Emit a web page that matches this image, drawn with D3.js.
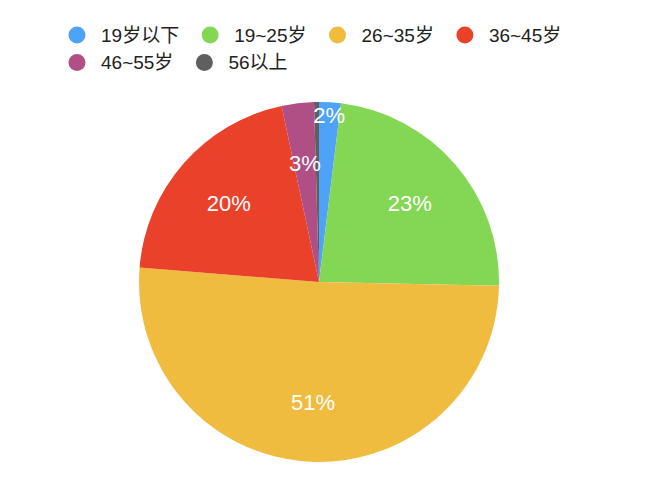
<!DOCTYPE html>
<html>
<head>
<meta charset="utf-8">
<script src="https://cdn.jsdelivr.net/npm/d3@7"></script>
<style>
  body { margin: 0; background: #fff; }
  text { font-family: "Helvetica Neue", Helvetica, Arial, "Liberation Sans", "Noto Sans CJK SC", sans-serif; }
</style>
</head>
<body>
<script>
// age groups and their share (percent)
const ageGroups = ["19岁以下", "19~25岁", "26~35岁", "36~45岁", "46~55岁", "56以上"];
const shares = [1.95, 23.4, 51.0, 20.4, 2.9, 0.44];
const colors = ["#4da3f7", "#84d655", "#f0bc40", "#e9412a", "#b04f85", "#5f5f5f"];

const data = ageGroups.map((g, i) => ({ group: g, value: shares[i] }));

const width = 662, height = 492;
const radius = 180;
const cx = 319, cy = 282;

const svg = d3.select("body")
              .append("svg")
              .attr("width", width)
              .attr("height", height);

// Legend (flows left to right, wraps)
const legend = svg.append("g").attr("transform", "translate(77, 35)");
let lx = 0, ly = 0;
data.forEach((d, i) => {
    const item = legend.append("g");
    item.append("circle")
        .attr("r", 8.5)
        .attr("fill", colors[i]);
    const t = item.append("text")
        .attr("x", 24)
        .attr("dy", "0.35em")
        .style("font-size", "19px")
        .attr("fill", "#222")
        .text(d.group);
    const w = 24 + t.node().getComputedTextLength() + 31;
    if (lx > 0 && 77 + lx + w > 620) { lx = 0; ly += 27.5; }
    item.attr("transform", `translate(${lx},${ly})`);
    lx += w;
});

// Pie
const pie = d3.pie().sort(null).value(d => d.value);
const arc = d3.arc().innerRadius(0).outerRadius(radius);
const arcs = pie(data);

const g = svg.append("g").attr("transform", `translate(${cx},${cy})`);

g.selectAll("path")
 .data(arcs)
 .enter()
 .append("path")
 .attr("d", arc)
 .attr("fill", (d, i) => colors[i]);

// Percent labels (the first small slice label sits near the rim, as in the original)
const total = d3.sum(shares);
g.selectAll(".label")
 .data(arcs.filter(d => d.data.value / total >= 0.01))
 .enter()
 .append("text")
 .attr("class", "label")
 .attr("transform", d => {
     const a = (d.startAngle + d.endAngle) / 2;
     const lr = d.index === 0 ? radius * 0.93 : radius * 2 / 3;
     return `translate(${Math.sin(a) * lr},${-Math.cos(a) * lr})`;
 })
 .attr("text-anchor", "middle")
 .attr("dy", "0.35em")
 .attr("fill", "#fff")
 .style("font-size", "22px")
 .text(d => Math.round(d.data.value / total * 100) + "%");
</script>
</body>
</html>
